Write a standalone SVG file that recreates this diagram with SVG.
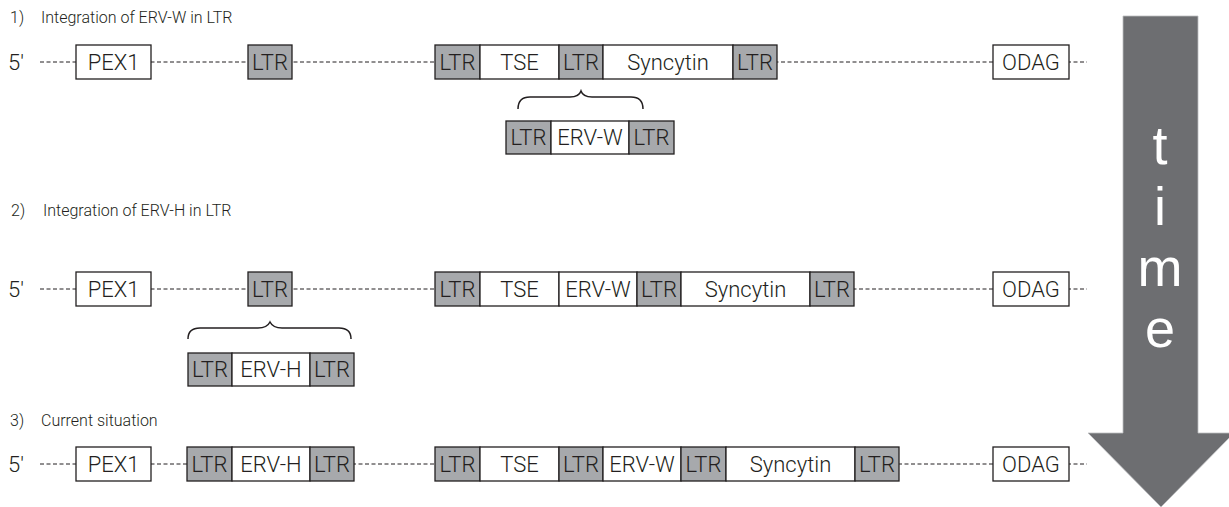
<svg xmlns="http://www.w3.org/2000/svg" width="1229" height="507" viewBox="0 0 1229 507">
  <style>
    .hdr { font-family: Roboto, "Liberation Sans", sans-serif; font-weight: 300; font-size: 16px; fill: #231f20; }
    .lbl { font-family: Roboto, "Liberation Sans", sans-serif; font-weight: 300; font-size: 22px; fill: #231f20; text-anchor: middle; }
    .end { font-family: Roboto, "Liberation Sans", sans-serif; font-weight: 300; font-size: 22px; fill: #231f20; }
    .box { fill: #ffffff; stroke: #231f20; stroke-width: 1.3; }
    .ltr { fill: #a7a9ac; stroke: #231f20; stroke-width: 1.3; }
    .dna { stroke: #231f20; stroke-width: 1; stroke-dasharray: 4 2.5; fill: none; }
    .brace { stroke: #231f20; stroke-width: 1.5; fill: none; }
    .time { font-family: "Liberation Sans", Arial, sans-serif; font-size: 54px; fill: #ffffff; text-anchor: middle; }
  </style>

  <!-- time arrow -->
  <g id="time-arrow">
    <polygon points="1123,16 1198,16 1198,433 1234,433 1161,507 1088,433 1123,433" fill="#6d6e71" stroke="#bcbec0" stroke-width="0.8"/>
    <text class="time" x="1160" y="164">t</text>
    <text class="time" x="1160" y="225">i</text>
    <text class="time" x="1160" y="286">m</text>
    <text class="time" x="1160" y="347">e</text>
  </g>

  <!-- headings -->
  <g id="headings">
    <text class="hdr" x="10" y="23">1)</text>
    <text class="hdr" x="41" y="23">Integration of ERV-W in LTR</text>
    <text class="hdr" x="11" y="216">2)</text>
    <text class="hdr" x="43" y="216">Integration of ERV-H in LTR</text>
    <text class="hdr" x="10" y="426">3)</text>
    <text class="hdr" x="41" y="426">Current situation</text>
  </g>

  <!-- DNA strands and insertion braces -->
  <g id="connectors">
    <line class="dna" x1="40" y1="62" x2="1087" y2="62"/>
    <line class="dna" x1="40" y1="289" x2="1087" y2="289"/>
    <line class="dna" x1="40" y1="464" x2="1087" y2="464"/>
    <path class="brace" d="M518,109 Q518,97 530,97 L570,97 Q579,97 581,91 Q583,97 592,97 L631,97 Q643,97 643,109"/>
    <path class="brace" d="M188,339 Q188,328 200,328 L258,328 Q267,328 270,322 Q273,328 282,328 L339,328 Q351,328 351,339"/>
  </g>

  <!-- row 1 -->
  <g id="row1">
    <text class="end" x="8" y="70">5′</text>
    <g id="r1-pex1"><rect class="box" x="76" y="45" width="75" height="34"/><text class="lbl" x="113.5" y="70">PEX1</text></g>
    <g id="r1-ltr-a"><rect class="ltr" x="248" y="45" width="44" height="34"/><text class="lbl" x="270" y="70">LTR</text></g>
    <g id="r1-ltr-b"><rect class="ltr" x="435" y="45" width="45" height="34"/><text class="lbl" x="457.5" y="70">LTR</text></g>
    <g id="r1-tse"><rect class="box" x="480" y="45" width="79" height="34"/><text class="lbl" x="519.5" y="70">TSE</text></g>
    <g id="r1-ltr-c"><rect class="ltr" x="559" y="45" width="44" height="34"/><text class="lbl" x="581" y="70">LTR</text></g>
    <g id="r1-syncytin"><rect class="box" x="603" y="45" width="130" height="34"/><text class="lbl" x="668" y="70">Syncytin</text></g>
    <g id="r1-ltr-d"><rect class="ltr" x="733" y="45" width="44" height="34"/><text class="lbl" x="755" y="70">LTR</text></g>
    <g id="r1-odag"><rect class="box" x="993" y="45" width="76" height="34"/><text class="lbl" x="1031" y="70">ODAG</text></g>
    <g id="r1-ervw">
      <rect class="ltr" x="506" y="121" width="45" height="33"/><text class="lbl" x="528.5" y="145">LTR</text>
      <rect class="box" x="551" y="121" width="78" height="33"/><text class="lbl" x="590" y="145">ERV-W</text>
      <rect class="ltr" x="629" y="121" width="45" height="33"/><text class="lbl" x="651.5" y="145">LTR</text>
    </g>
  </g>

  <!-- row 2 -->
  <g id="row2">
    <text class="end" x="8" y="297">5′</text>
    <g id="r2-pex1"><rect class="box" x="76" y="272" width="75" height="34"/><text class="lbl" x="113.5" y="297">PEX1</text></g>
    <g id="r2-ltr-a"><rect class="ltr" x="248" y="272" width="44" height="34"/><text class="lbl" x="270" y="297">LTR</text></g>
    <g id="r2-ltr-b"><rect class="ltr" x="435" y="272" width="45" height="34"/><text class="lbl" x="457.5" y="297">LTR</text></g>
    <g id="r2-tse"><rect class="box" x="480" y="272" width="79" height="34"/><text class="lbl" x="519.5" y="297">TSE</text></g>
    <g id="r2-ervw"><rect class="box" x="559" y="272" width="78" height="34"/><text class="lbl" x="598" y="297">ERV-W</text></g>
    <g id="r2-ltr-c"><rect class="ltr" x="637" y="272" width="44" height="34"/><text class="lbl" x="659" y="297">LTR</text></g>
    <g id="r2-syncytin"><rect class="box" x="681" y="272" width="129" height="34"/><text class="lbl" x="745.5" y="297">Syncytin</text></g>
    <g id="r2-ltr-d"><rect class="ltr" x="810" y="272" width="44" height="34"/><text class="lbl" x="832" y="297">LTR</text></g>
    <g id="r2-odag"><rect class="box" x="993" y="272" width="76" height="34"/><text class="lbl" x="1031" y="297">ODAG</text></g>
    <g id="r2-ervh">
      <rect class="ltr" x="188" y="353" width="44" height="33"/><text class="lbl" x="210" y="377">LTR</text>
      <rect class="box" x="232" y="353" width="78" height="33"/><text class="lbl" x="271" y="377">ERV-H</text>
      <rect class="ltr" x="310" y="353" width="44" height="33"/><text class="lbl" x="332" y="377">LTR</text>
    </g>
  </g>

  <!-- row 3 -->
  <g id="row3">
    <text class="end" x="8" y="472">5′</text>
    <g id="r3-pex1"><rect class="box" x="76" y="447" width="75" height="34"/><text class="lbl" x="113.5" y="472">PEX1</text></g>
    <g id="r3-ltr-a"><rect class="ltr" x="187" y="447" width="45" height="34"/><text class="lbl" x="209.5" y="472">LTR</text></g>
    <g id="r3-ervh"><rect class="box" x="232" y="447" width="78" height="34"/><text class="lbl" x="271" y="472">ERV-H</text></g>
    <g id="r3-ltr-b"><rect class="ltr" x="310" y="447" width="44" height="34"/><text class="lbl" x="332" y="472">LTR</text></g>
    <g id="r3-ltr-c"><rect class="ltr" x="435" y="447" width="45" height="34"/><text class="lbl" x="457.5" y="472">LTR</text></g>
    <g id="r3-tse"><rect class="box" x="480" y="447" width="79" height="34"/><text class="lbl" x="519.5" y="472">TSE</text></g>
    <g id="r3-ltr-d"><rect class="ltr" x="559" y="447" width="44" height="34"/><text class="lbl" x="581" y="472">LTR</text></g>
    <g id="r3-ervw"><rect class="box" x="603" y="447" width="78" height="34"/><text class="lbl" x="642" y="472">ERV-W</text></g>
    <g id="r3-ltr-e"><rect class="ltr" x="681" y="447" width="45" height="34"/><text class="lbl" x="703.5" y="472">LTR</text></g>
    <g id="r3-syncytin"><rect class="box" x="726" y="447" width="129" height="34"/><text class="lbl" x="790.5" y="472">Syncytin</text></g>
    <g id="r3-ltr-f"><rect class="ltr" x="855" y="447" width="44" height="34"/><text class="lbl" x="877" y="472">LTR</text></g>
    <g id="r3-odag"><rect class="box" x="993" y="447" width="76" height="34"/><text class="lbl" x="1031" y="472">ODAG</text></g>
  </g>
</svg>
